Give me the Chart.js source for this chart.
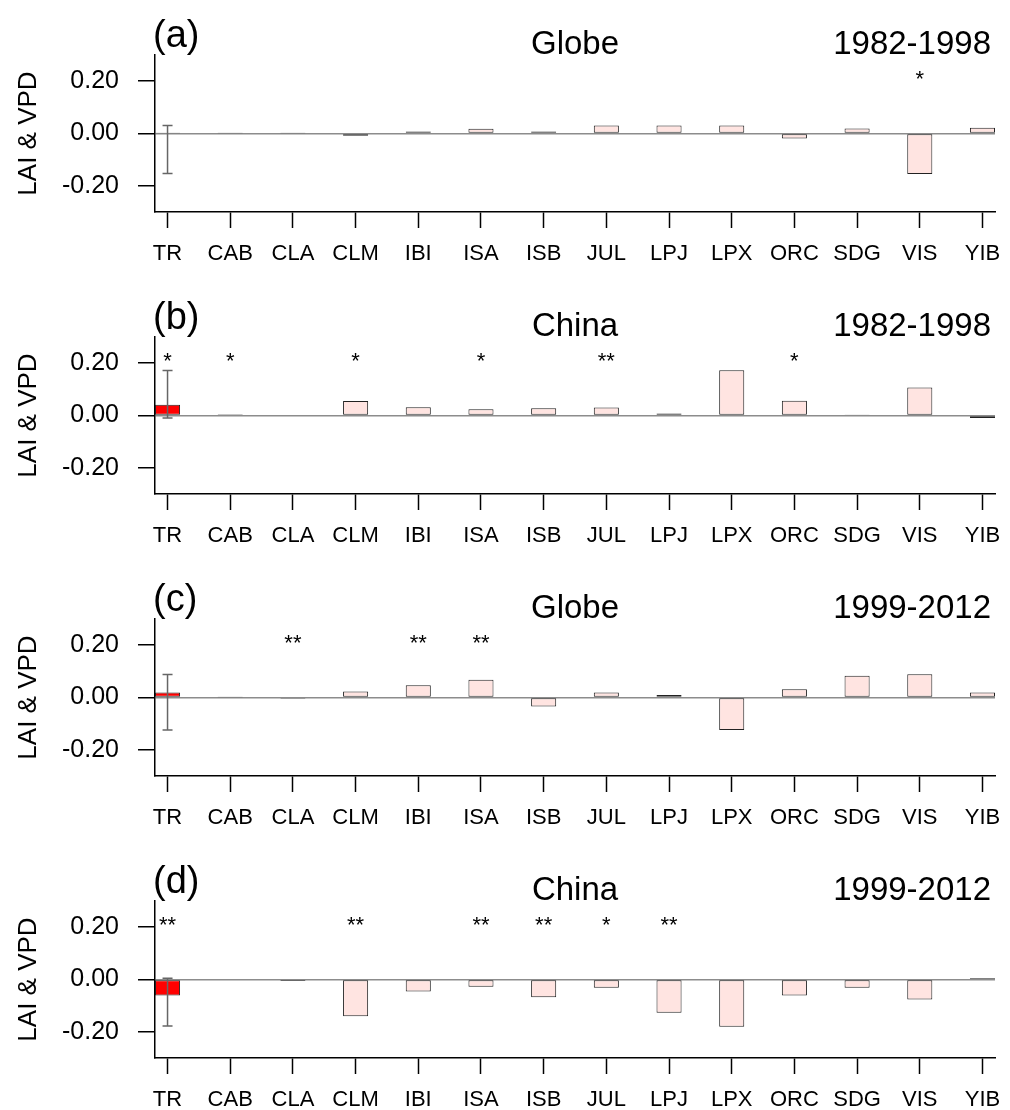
<!DOCTYPE html>
<html>
<head>
<meta charset="utf-8">
<title>LAI &amp; VPD</title>
<script src="https://cdn.jsdelivr.net/npm/chart.js@4.4.1/dist/chart.umd.min.js"></script>
<style>
  html, body { margin: 0; padding: 0; background: #ffffff; }
  #wrap { position: relative; width: 1010px; height: 1110px; overflow: hidden; background: #ffffff; }
  #wrap canvas { position: absolute; left: 0; }
</style>
</head>
<body>
<div id="wrap">
  <canvas id="panelA" width="1010" height="282" style="top:0px"></canvas>
  <canvas id="panelB" width="1010" height="282" style="top:282px"></canvas>
  <canvas id="panelC" width="1010" height="282" style="top:564px"></canvas>
  <canvas id="panelD" width="1010" height="282" style="top:846px"></canvas>
</div>
<script>
// Models (TR = ensemble mean) along the x axis
const models = ['TR', 'CAB', 'CLA', 'CLM', 'IBI', 'ISA', 'ISB', 'JUL', 'LPJ', 'LPX', 'ORC', 'SDG', 'VIS', 'YIB'];
const yTickValues = [-0.20, 0.00, 0.20];

// LAI & VPD values per model
const globe8298 = [0.001, 0.001, 0.001, -0.009, 0.008, 0.018, 0.008, 0.031, 0.031, 0.031, -0.019, 0.019, -0.155, 0.022];
const china8298 = [0.041, 0.005, 0.003, 0.055, 0.032, 0.024, 0.028, 0.031, 0.008, 0.173, 0.056, 0.004, 0.107, -0.010];
const globe9912 = [0.019, 0.001, -0.005, 0.023, 0.047, 0.068, -0.034, 0.019, 0.010, -0.124, 0.032, 0.083, 0.089, 0.019];
const china9912 = [-0.061, 0.003, -0.006, -0.140, -0.046, -0.028, -0.068, -0.032, -0.127, -0.181, -0.061, -0.032, -0.076, 0.006];

// Spread of the TR ensemble: [low, high]
const spreadGlobe8298 = [-0.153, 0.031];
const spreadChina8298 = [-0.010, 0.172];
const spreadGlobe9912 = [-0.124, 0.088];
const spreadChina9912 = [-0.178, 0.005];

// Significance marks per model
const sigGlobe8298 = ['', '', '', '', '', '', '', '', '', '', '', '', '*', ''];
const sigChina8298 = ['*', '*', '', '*', '', '*', '', '**', '', '', '*', '', '', ''];
const sigGlobe9912 = ['', '', '**', '', '**', '**', '', '', '', '', '', '', '', ''];
const sigChina9912 = ['**', '', '', '**', '', '**', '**', '*', '**', '', '', '', '', ''];

const FONT = '"Liberation Sans", Arial, Helvetica, sans-serif';
Chart.defaults.font.family = FONT;
Chart.defaults.color = '#000000';

const ENSEMBLE_FILL = '#ff0000';
const MODEL_FILL = '#ffe4e1';

// Panel tag, region and period above the plot
const panelHeader = {
  id: 'panelHeader',
  afterDraw(chart, args, opts) {
    const { ctx, chartArea: a } = chart;
    ctx.save();
    ctx.fillStyle = '#000000';
    ctx.textBaseline = 'alphabetic';
    ctx.font = '38px ' + FONT;
    ctx.textAlign = 'left';
    ctx.fillText(opts.tag, a.left - 2, a.top - 8);
    ctx.font = '33px ' + FONT;
    ctx.textAlign = 'center';
    ctx.fillText(opts.region, (a.left + a.right) / 2, a.top - 1);
    ctx.textAlign = 'right';
    ctx.fillText(opts.period, a.right - 4, a.top - 1);
    ctx.restore();
  }
};

// Whisker showing the spread of the ensemble bar
const ensembleSpread = {
  id: 'ensembleSpread',
  afterDatasetsDraw(chart, args, opts) {
    const { ctx, scales: { x, y } } = chart;
    const px = x.getPixelForValue(opts.index);
    const yLow = y.getPixelForValue(opts.range[0]);
    const yHigh = y.getPixelForValue(opts.range[1]);
    ctx.save();
    ctx.strokeStyle = '#666666';
    ctx.lineWidth = 1.5;
    ctx.beginPath();
    ctx.moveTo(px, yHigh); ctx.lineTo(px, yLow);
    ctx.moveTo(px - 5, yHigh); ctx.lineTo(px + 5, yHigh);
    ctx.moveTo(px - 5, yLow); ctx.lineTo(px + 5, yLow);
    ctx.stroke();
    ctx.restore();
  }
};

// Asterisks marking significance above each model
const significance = {
  id: 'significance',
  afterDatasetsDraw(chart, args, opts) {
    const { ctx, scales: { x, y } } = chart;
    const cy = y.getPixelForValue(opts.level);
    ctx.save();
    ctx.fillStyle = '#000000';
    ctx.font = '22px ' + FONT;
    ctx.textAlign = 'center';
    ctx.textBaseline = 'alphabetic';
    opts.marks.forEach((m, i) => {
      if (!m) return;
      const mt = ctx.measureText(m);
      const shift = (mt.actualBoundingBoxAscent - mt.actualBoundingBoxDescent) / 2;
      ctx.fillText(m, x.getPixelForValue(i), cy + shift);
    });
    ctx.restore();
  }
};

function makePanel(canvasId, tag, region, period, values, spread, marks) {
  return new Chart(document.getElementById(canvasId), {
    type: 'bar',
    data: {
      datasets: [{
        data: values.map((v, i) => ({ x: i, y: v })),
        backgroundColor: values.map((v, i) => (i === 0 ? ENSEMBLE_FILL : MODEL_FILL)),
        borderColor: '#222222',
        borderWidth: 1,
        borderSkipped: false,
        barPercentage: 0.4,
        categoryPercentage: 1.0
      }]
    },
    options: {
      responsive: false,
      animation: false,
      devicePixelRatio: 1,
      layout: { padding: { left: 0, right: 15, top: 55, bottom: 0 } },
      plugins: {
        legend: { display: false },
        tooltip: { enabled: false },
        panelHeader: { tag, region, period },
        ensembleSpread: { index: 0, range: spread },
        significance: { marks, level: 0.222 }
      },
      scales: {
        x: {
          type: 'linear',
          min: -0.2,
          max: 13.2,
          offset: false,
          afterBuildTicks: (s) => { s.ticks = models.map((m, i) => ({ value: i })); },
          afterFit: (s) => { s.height = 70; s.paddingLeft = 0; s.paddingRight = 0; },
          grid: { offset: false, drawOnChartArea: false, drawTicks: true, tickLength: 16, tickColor: '#000000', tickWidth: 1.5 },
          border: { display: true, color: '#000000', width: 1.5 },
          ticks: {
            autoSkip: false, maxRotation: 0, minRotation: 0, padding: 13,
            color: '#000000', font: { size: 22 },
            callback: (v) => models[v]
          }
        },
        y: {
          type: 'linear',
          min: -0.3,
          max: 0.3,
          z: 1,
          afterBuildTicks: (s) => { s.ticks = yTickValues.map(v => ({ value: v })); },
          afterFit: (s) => { s.width = 155; s.paddingTop = 0; s.paddingBottom = 0; },
          grid: {
            drawOnChartArea: true, drawTicks: true, tickLength: 17,
            color: (c) => (c.tick && Math.abs(c.tick.value) < 1e-9 ? '#8c8c8c' : 'rgba(0,0,0,0)'),
            lineWidth: 1.5, tickColor: '#000000', tickWidth: 1.5
          },
          border: { display: true, color: '#000000', width: 1.5 },
          ticks: {
            padding: 19, color: '#000000', font: { size: 25 },
            callback: (v) => Number(v).toFixed(2)
          },
          title: {
            display: true, text: 'LAI & VPD', color: '#000000',
            font: { size: 26 }, padding: { top: 13, bottom: 0 }
          }
        }
      }
    },
    plugins: [panelHeader, ensembleSpread, significance]
  });
}

makePanel('panelA', '(a)', 'Globe', '1982-1998', globe8298, spreadGlobe8298, sigGlobe8298);
makePanel('panelB', '(b)', 'China', '1982-1998', china8298, spreadChina8298, sigChina8298);
makePanel('panelC', '(c)', 'Globe', '1999-2012', globe9912, spreadGlobe9912, sigGlobe9912);
makePanel('panelD', '(d)', 'China', '1999-2012', china9912, spreadChina9912, sigChina9912);
</script>
</body>
</html>
